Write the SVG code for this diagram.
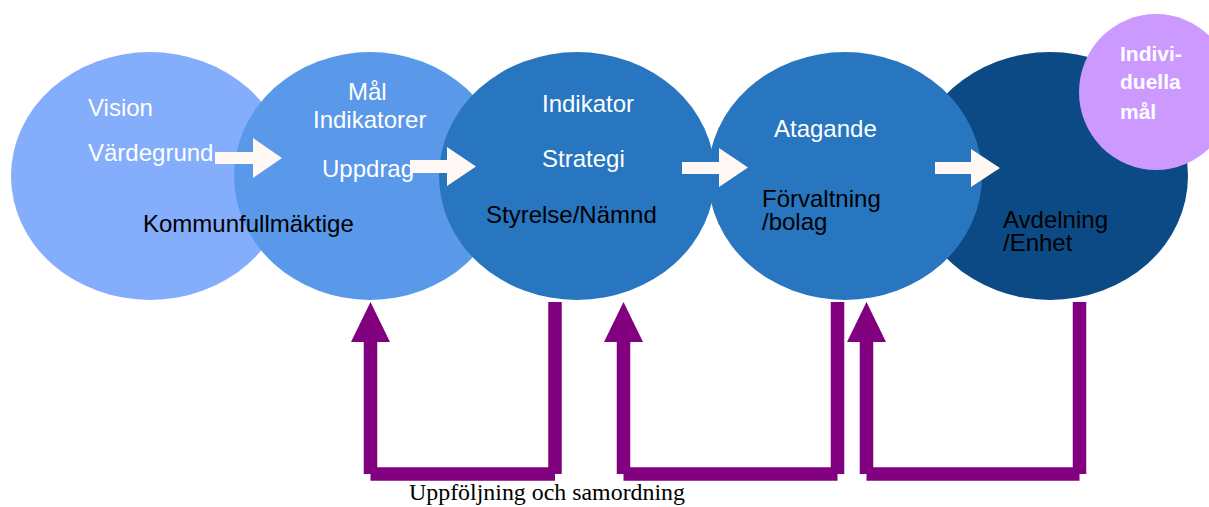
<svg xmlns="http://www.w3.org/2000/svg" width="1209" height="507" viewBox="0 0 1209 507">
<style>
.t{font-family:"Liberation Sans",Arial,sans-serif;font-size:24px}
.w{fill:#FFFFFF}
.k{fill:#000000}
.ind{font-family:"Liberation Sans",Arial,sans-serif;font-size:21px;font-weight:bold;fill:#FFFFFF}
.wa{fill:#FFF8F5}
.pl{stroke:#800080;stroke-width:13.5;fill:none;stroke-linecap:butt}
.ph{fill:#800080}
.cap{font-family:"Liberation Serif","Times New Roman",serif;font-size:23px;fill:#000000}
</style>
<rect width="1209" height="507" fill="#FFFFFF"/>
<g id="node-kommunfullmaktige"><ellipse cx="150" cy="176" rx="139" ry="124" fill="#84AEFB"/></g>
<g id="node-mal"><ellipse cx="370" cy="176" rx="136" ry="124" fill="#5A99EA"/></g>
<g id="node-styrelse"><ellipse cx="577" cy="176" rx="138" ry="124" fill="#2776BF"/></g>
<g id="node-avdelning"><ellipse cx="1050" cy="176" rx="138" ry="124" fill="#0B4A84"/></g>
<g id="node-forvaltning"><ellipse cx="845" cy="176" rx="137" ry="124" fill="#2776BF"/></g>
<g id="node-individuella"><ellipse cx="1156" cy="92" rx="77" ry="78" fill="#CC99FF"/>
<text class="ind" x="1120" y="61">Indivi-</text>
<text class="ind" x="1120" y="89">duella</text>
<text class="ind" x="1120" y="119">mål</text>
</g>
<g id="labels">
<g id="label-kommunfullmaktige">
<text class="t w" x="88" y="116">Vision</text>
<text class="t w" x="88" y="161">Värdegrund</text>
<text class="t k" x="143" y="232">Kommunfullmäktige</text>
</g>
<g id="label-mal">
<text class="t w" x="348" y="100">Mål</text>
<text class="t w" x="313" y="128">Indikatorer</text>
<text class="t w" x="322" y="177">Uppdrag</text>
</g>
<g id="label-styrelse">
<text class="t w" x="542" y="112">Indikator</text>
<text class="t w" x="542" y="167">Strategi</text>
<text class="t k" x="486" y="223">Styrelse/Nämnd</text>
</g>
<g id="label-forvaltning">
<text class="t w" x="774" y="137">Atagande</text>
<text class="t k" x="762" y="207">Förvaltning</text>
<text class="t k" x="762" y="230">/bolag</text>
</g>
<g id="label-avdelning">
<text class="t k" x="1003" y="228">Avdelning</text>
<text class="t k" x="1003" y="251">/Enhet</text>
</g>
</g>
<g id="connectors">
<polygon class="wa" points="215,152 253,152 253,138 282,158 253,178 253,164 215,164"/>
<polygon class="wa" points="410,160 447,160 447,147 476,166.5 447,186 447,173 410,173"/>
<polygon class="wa" points="682,162 719,162 719,148 748,167.5 719,187 719,174 682,174"/>
<polygon class="wa" points="935,162 971,162 971,149 1000,168 971,187 971,174 935,174"/>
<path class="pl" d="M370.5,340 V474 M370.5,474 H555 M555,302 V474"/>
<polygon class="ph" points="370.5,302 351,342 390,342"/>
<path class="pl" d="M623.5,340 V474 M623.5,474 H837.5 M837.5,302 V474"/>
<polygon class="ph" points="623.5,302 604,342 643,342"/>
<path class="pl" d="M866.5,340 V474 M866.5,474 H1079.5 M1079.5,302 V474"/>
<polygon class="ph" points="866.5,302 847,342 886,342"/>
</g>
<text class="cap" x="409" y="500" textLength="276" lengthAdjust="spacingAndGlyphs">Uppföljning och samordning</text>
</svg>
